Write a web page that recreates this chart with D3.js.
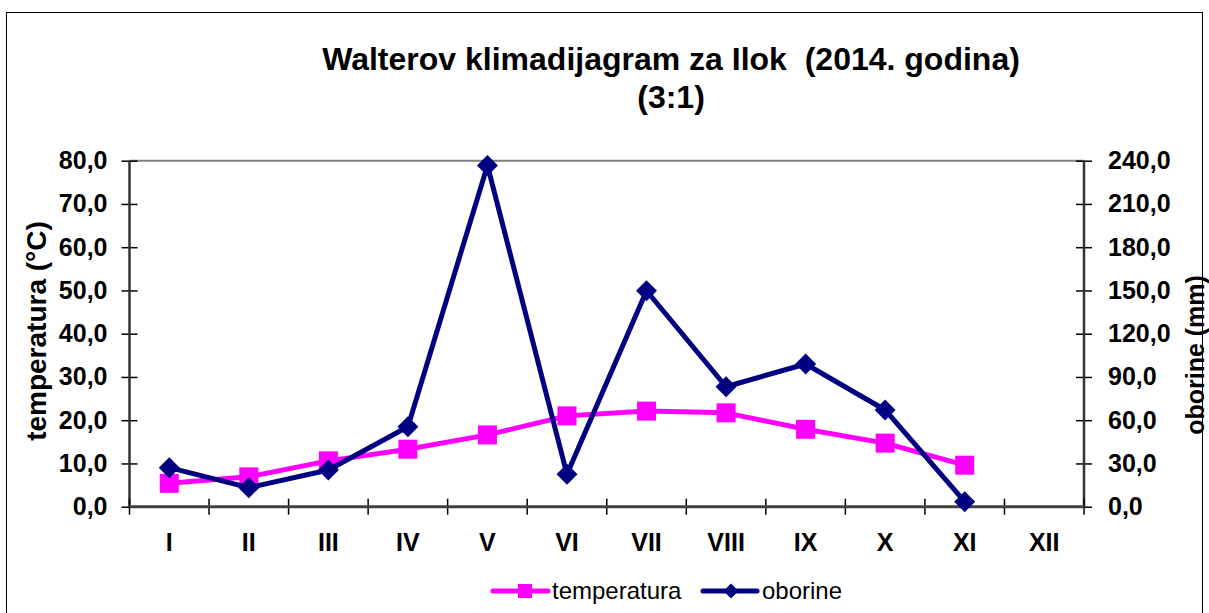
<!DOCTYPE html>
<html>
<head>
<meta charset="utf-8">
<script src="https://cdn.jsdelivr.net/npm/d3@7"></script>
<style>
    body { margin: 0; background: #fff; }
    svg { display: block; font-family: "Liberation Sans", Arial, sans-serif; }
    .axis path { display: none; }
    .axis text { font-size: 25px; font-weight: bold; fill: #000; }
</style>
</head>
<body>
<div id="chart"></div>
<script>
var months = ['I','II','III','IV','V','VI','VII','VIII','IX','X','XI','XII'];
var temperatura = [5.4, 6.9, 10.6, 13.3, 16.6, 21.0, 22.1, 21.7, 17.9, 14.7, 9.6, null];
var oborine = [27.1, 13.2, 25.5, 55.5, 236.7, 22.5, 149.8, 83.2, 99.0, 67.1, 3.5, null];
var tempTicks = [0, 10, 20, 30, 40, 50, 60, 70, 80];
var rainTicks = [0, 30, 60, 90, 120, 150, 180, 210, 240];

var width = 1209, height = 613,
    margins = {top: 160.7, right: 125, bottom: 106.3, left: 129.5},
    comma = function(d) { return d3.format(".1f")(d).replace(".", ","); };

var svg = d3.select("#chart").append("svg")
    .attr("width", width)
    .attr("height", height);

// outer frame
svg.append("rect")
    .attr("x", 6.5).attr("y", 12.5)
    .attr("width", 1196).attr("height", 640)
    .attr("fill", "none").attr("stroke", "#000").attr("stroke-width", 1);

var x = d3.scaleBand().domain(months).range([margins.left, width - margins.right]);
var yT = d3.scaleLinear().domain([0, 80]).range([height - margins.bottom, margins.top]);
var yP = d3.scaleLinear().domain([0, 240]).range([height - margins.bottom, margins.top]);
var x0 = x.range()[0], x1 = x.range()[1], y0 = yT(0), yTop = yT(80);

// title
var title = svg.append("text")
    .attr("text-anchor", "middle")
    .attr("font-size", "32px")
    .attr("font-weight", "bold");
title.append("tspan").attr("x", 671).attr("y", 70).text("Walterov klimadijagram za Ilok\u00a0\u00a0(2014. godina)");
title.append("tspan").attr("x", 671).attr("y", 108).text("(3:1)");

// plot area top border
svg.append("line")
    .attr("x1", x0).attr("x2", x1)
    .attr("y1", yTop).attr("y2", yTop)
    .attr("stroke", "#808080").attr("stroke-width", 2);

// left axis
var gl = svg.append("g").attr("class", "axis")
    .attr("transform", "translate(" + x0 + ",0)")
    .call(d3.axisLeft(yT).tickValues(tempTicks).tickFormat(comma).tickSize(8).tickPadding(14));
gl.selectAll(".tick line").attr("x1", -8).attr("x2", 8).attr("stroke", "#000").attr("stroke-width", 1.5);

// right axis
var gr = svg.append("g").attr("class", "axis")
    .attr("transform", "translate(" + x1 + ",0)")
    .call(d3.axisRight(yP).tickValues(rainTicks).tickFormat(comma).tickSize(8).tickPadding(16));
gr.selectAll(".tick line").attr("x1", -8).attr("x2", 8).attr("stroke", "#000").attr("stroke-width", 1.5);

[x0, x1].forEach(function(xx) {
    svg.append("line")
        .attr("x1", xx).attr("x2", xx)
        .attr("y1", yTop).attr("y2", y0)
        .attr("stroke", "#333").attr("stroke-width", 2.5);
});

// bottom axis: labels centred, ticks on band edges
var gb = svg.append("g").attr("class", "axis")
    .attr("transform", "translate(0," + y0 + ")")
    .call(d3.axisBottom(x).tickSize(0).tickPadding(26.5));
gb.selectAll(".tick line").remove();

svg.selectAll("line.xtick")
    .data(months.map(function(m) { return x(m); }).concat([x1]))
    .enter().append("line")
    .attr("class", "xtick")
    .attr("x1", function(d) { return d; }).attr("x2", function(d) { return d; })
    .attr("y1", y0 - 8).attr("y2", y0 + 8)
    .attr("stroke", "#000").attr("stroke-width", 1.5);

svg.append("line")
    .attr("x1", x0).attr("x2", x1)
    .attr("y1", y0).attr("y2", y0)
    .attr("stroke", "#404040").attr("stroke-width", 3);

// axis titles
svg.append("text")
    .attr("transform", "translate(46,331) rotate(-90)")
    .attr("text-anchor", "middle")
    .attr("font-size", "28px").attr("font-weight", "bold")
    .text("temperatura (°C)");

svg.append("text")
    .attr("transform", "translate(1204,355) rotate(-90)")
    .attr("text-anchor", "middle")
    .attr("font-size", "25px").attr("font-weight", "bold")
    .text("oborine (mm)");

// series
var cx = function(d, i) { return x(months[i]) + x.bandwidth() / 2; };

var tLine = d3.line()
    .defined(function(d) { return d != null; })
    .x(cx).y(function(d) { return yT(d); });
var pLine = d3.line()
    .defined(function(d) { return d != null; })
    .x(cx).y(function(d) { return yP(d); });

var tempData = temperatura.map(function(v, i) { return {v: v, i: i}; }).filter(function(d) { return d.v != null; });
var rainData = oborine.map(function(v, i) { return {v: v, i: i}; }).filter(function(d) { return d.v != null; });

svg.append("path")
    .attr("d", tLine(temperatura))
    .attr("fill", "none").attr("stroke", "#ff00ff").attr("stroke-width", 5)
    .attr("stroke-linejoin", "round");

svg.selectAll("rect.tm")
    .data(tempData)
    .enter().append("rect")
    .attr("class", "tm")
    .attr("x", function(d) { return cx(d.v, d.i) - 9.5; })
    .attr("y", function(d) { return yT(d.v) - 9.5; })
    .attr("width", 19).attr("height", 19)
    .attr("fill", "#ff00ff");

svg.append("path")
    .attr("d", pLine(oborine))
    .attr("fill", "none").attr("stroke", "#000080").attr("stroke-width", 5)
    .attr("stroke-linejoin", "round");

var diamond = function(px, py, r) {
    return "M" + px + "," + (py - r) + "L" + (px + r) + "," + py + "L" + px + "," + (py + r) + "L" + (px - r) + "," + py + "Z";
};

svg.selectAll("path.pm")
    .data(rainData)
    .enter().append("path")
    .attr("class", "pm")
    .attr("d", function(d) { return diamond(cx(d.v, d.i), yP(d.v), 10.5); })
    .attr("fill", "#000080");

// legend
var legend = svg.append("g").attr("font-size", "24px");
legend.append("line")
    .attr("x1", 493).attr("x2", 548).attr("y1", 591).attr("y2", 591)
    .attr("stroke", "#ff00ff").attr("stroke-width", 5).attr("stroke-linecap", "round");
legend.append("rect")
    .attr("x", 518).attr("y", 584).attr("width", 14).attr("height", 14)
    .attr("fill", "#ff00ff");
legend.append("text").attr("x", 552).attr("y", 599).text("temperatura");

legend.append("line")
    .attr("x1", 703).attr("x2", 757).attr("y1", 591).attr("y2", 591)
    .attr("stroke", "#000080").attr("stroke-width", 5).attr("stroke-linecap", "round");
legend.append("path")
    .attr("d", diamond(731, 591, 7.5))
    .attr("fill", "#000080");
legend.append("text").attr("x", 762).attr("y", 599).text("oborine");
</script>
</body>
</html>
